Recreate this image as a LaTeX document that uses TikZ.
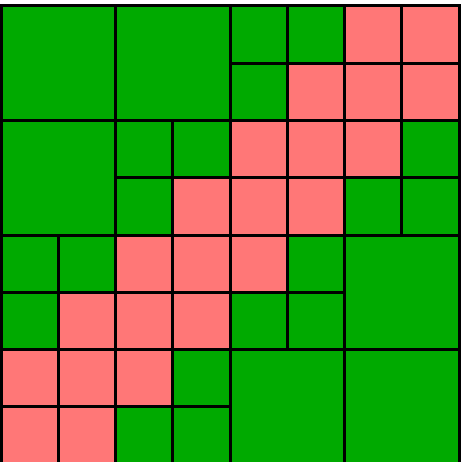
\documentclass[tikz,border=0pt]{standalone}
\definecolor{grn}{RGB}{0,170,0}
\definecolor{pnk}{RGB}{255,119,119}
\tikzset{
  gcell/.style={fill=grn,draw=black,line width=3pt},
  pcell/.style={fill=pnk,draw=black,line width=3pt}
}
\begin{document}
\begin{tikzpicture}[x=1pt,y=-1pt]
\useasboundingbox (0,0) rectangle (465,462);
\fill[white] (0,0) rectangle (465,462);
\clip (0,0) rectangle (465,462);
\def\s{57.25}
\def\ox{1}
\def\oy{6}
% big squares (col,row)
\foreach \c/\r in {0/0,2/0,0/2,6/4,4/6,6/6}{
  \draw[gcell] ({\ox+\c*\s},{\oy+\r*\s}) rectangle ++({2*\s},{2*\s});
}
% small green cells
\foreach \c/\r in {4/0,5/0,4/1,2/2,3/2,7/2,2/3,6/3,7/3,0/4,1/4,5/4,0/5,4/5,5/5,3/6,2/7,3/7}{
  \draw[gcell] ({\ox+\c*\s},{\oy+\r*\s}) rectangle ++(\s,\s);
}
% pink cells
\foreach \c/\r in {6/0,7/0,5/1,6/1,7/1,4/2,5/2,6/2,3/3,4/3,5/3,2/4,3/4,4/4,1/5,2/5,3/5,0/6,1/6,2/6,0/7,1/7}{
  \draw[pcell] ({\ox+\c*\s},{\oy+\r*\s}) rectangle ++(\s,\s);
}
\end{tikzpicture}
\end{document}
